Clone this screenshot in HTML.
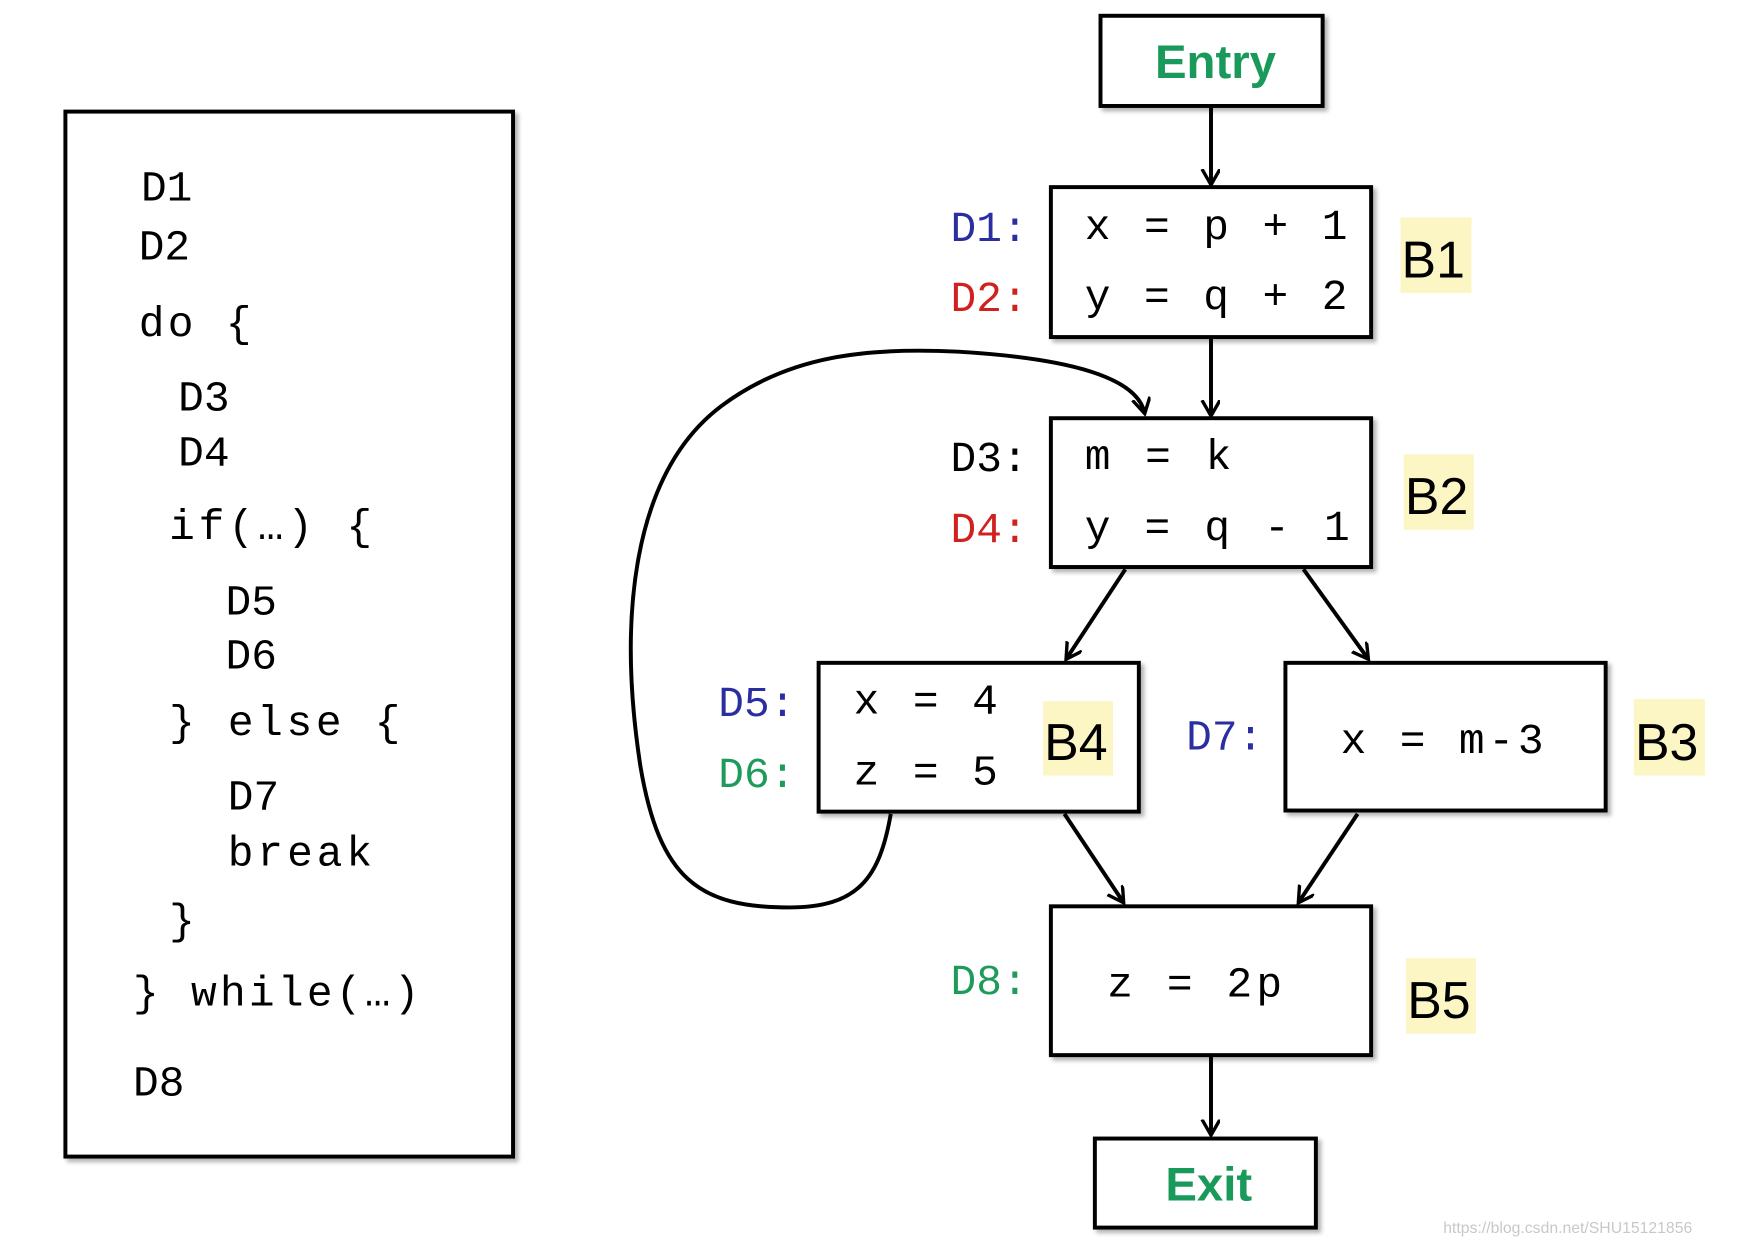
<!DOCTYPE html>
<html><head><meta charset="utf-8"><style>
html,body{margin:0;padding:0;background:#fff;width:1759px;height:1240px;overflow:hidden}
svg{display:block}
text{font-family:"Liberation Mono","DejaVu Sans Mono",monospace;}
</style></head><body>
<svg width="1759" height="1240" viewBox="0 0 1560 1100" preserveAspectRatio="none" xmlns="http://www.w3.org/2000/svg">
<defs>
<marker id="ah" markerWidth="20" markerHeight="20" refX="13" refY="8" orient="auto" markerUnits="userSpaceOnUse">
<path d="M0,0 L14,8 L0,16" fill="none" stroke="#000" stroke-width="3"/>
</marker>
<filter id="sh" x="-5%" y="-5%" width="115%" height="115%"><feDropShadow dx="3" dy="3" stdDeviation="2" flood-color="#000" flood-opacity="0.3"/></filter>
</defs>
<rect x="58" y="99" width="397" height="927" fill="#fff" stroke="#000" stroke-width="3.5" filter="url(#sh)"/>
<g font-size="38" fill="#000">
<text x="125" y="178">D1</text>
<text x="123" y="230">D2</text>
<text x="123" y="298" textLength="100" lengthAdjust="spacing">do {</text>
<text x="158" y="364">D3</text>
<text x="158" y="413">D4</text>
<text x="150" y="478" textLength="180" lengthAdjust="spacing">if(…) {</text>
<text x="200" y="545">D5</text>
<text x="200" y="593">D6</text>
<text x="150" y="652" textLength="205" lengthAdjust="spacing">} else {</text>
<text x="202" y="718">D7</text>
<text x="202" y="768" textLength="128" lengthAdjust="spacing">break</text>
<text x="150" y="828">}</text>
<text x="118" y="892" textLength="254" lengthAdjust="spacing">} while(…)</text>
<text x="118" y="972">D8</text>
</g>
<g fill="#fff" stroke="#000" stroke-width="3.5" filter="url(#sh)">
<rect x="976" y="14" width="197" height="80"/>
<rect x="932" y="166" width="284" height="133"/>
<rect x="932" y="371" width="284" height="132"/>
<rect x="726" y="588" width="284" height="132"/>
<rect x="1140" y="588" width="284" height="131"/>
<rect x="932" y="804" width="284" height="132"/>
<rect x="971" y="1010" width="196" height="79"/>
</g>
<g fill="#fbf6c4">
<rect x="1242" y="193" width="63" height="67"/>
<rect x="1245" y="403" width="62" height="67"/>
<rect x="925" y="622" width="62" height="66"/>
<rect x="1449" y="620" width="63" height="68"/>
<rect x="1247" y="850" width="62" height="67"/>
</g>
<g font-size="46" fill="#000">
<text x="1243" y="246" style="font-family:'Liberation Sans',sans-serif">B1</text>
<text x="1246" y="456" style="font-family:'Liberation Sans',sans-serif">B2</text>
<text x="926" y="674" style="font-family:'Liberation Sans',sans-serif">B4</text>
<text x="1450" y="674" style="font-family:'Liberation Sans',sans-serif">B3</text>
<text x="1248" y="903" style="font-family:'Liberation Sans',sans-serif">B5</text>
</g>
<g font-size="42" font-weight="bold" fill="#1a9a5a" text-anchor="middle">
<text x="1078" y="69" style="font-family:'Liberation Sans',sans-serif">Entry</text>
<text x="1072" y="1065" style="font-family:'Liberation Sans',sans-serif">Exit</text>
</g>
<g font-size="38" fill="#000">
<text x="962" y="212" textLength="233" lengthAdjust="spacing">x = p + 1</text>
<text x="962" y="274" textLength="233" lengthAdjust="spacing">y = q + 2</text>
<text x="962" y="416" textLength="130" lengthAdjust="spacing">m = k</text>
<text x="962" y="479" textLength="235" lengthAdjust="spacing">y = q - 1</text>
<text x="757" y="633" textLength="128" lengthAdjust="spacing">x = 4</text>
<text x="757" y="696" textLength="128" lengthAdjust="spacing">z = 5</text>
<text x="1189" y="668" textLength="180" lengthAdjust="spacing">x = m-3</text>
<text x="982" y="884" textLength="155" lengthAdjust="spacing">z = 2p</text>
</g>
<g font-size="38">
<text x="843" y="214" fill="#2a2ea0">D1:</text>
<text x="843" y="276" fill="#d02020">D2:</text>
<text x="843" y="418" fill="#000">D3:</text>
<text x="843" y="481" fill="#d02020">D4:</text>
<text x="637" y="635" fill="#2a2ea0">D5:</text>
<text x="637" y="698" fill="#1e9a5a">D6:</text>
<text x="1052" y="665" fill="#2a2ea0">D7:</text>
<text x="843" y="882" fill="#1e9a5a">D8:</text>
</g>
<g stroke="#000" stroke-width="3.5" fill="none" marker-end="url(#ah)">
<line x1="1074" y1="95" x2="1074" y2="163"/>
<line x1="1074" y1="300" x2="1074" y2="368"/>
<line x1="998" y1="505" x2="946" y2="584"/>
<line x1="1156" y1="505" x2="1213" y2="584"/>
<line x1="944" y1="722" x2="996" y2="800"/>
<line x1="1204" y1="722" x2="1152" y2="800"/>
<line x1="1074" y1="937" x2="1074" y2="1006"/>
<path d="M790,722 C780,780 760,805 700,805 C620,805 585,780 568,680 C548,550 560,420 640,360 C700,315 770,308 850,312 C950,318 1008,335 1015,366"/>
</g>
<text x="1280" y="1094" font-size="14" fill="#c8c8c8" style="font-family:'Liberation Sans',sans-serif">https://blog.csdn.net/SHU15121856</text>
</svg>
</body></html>
